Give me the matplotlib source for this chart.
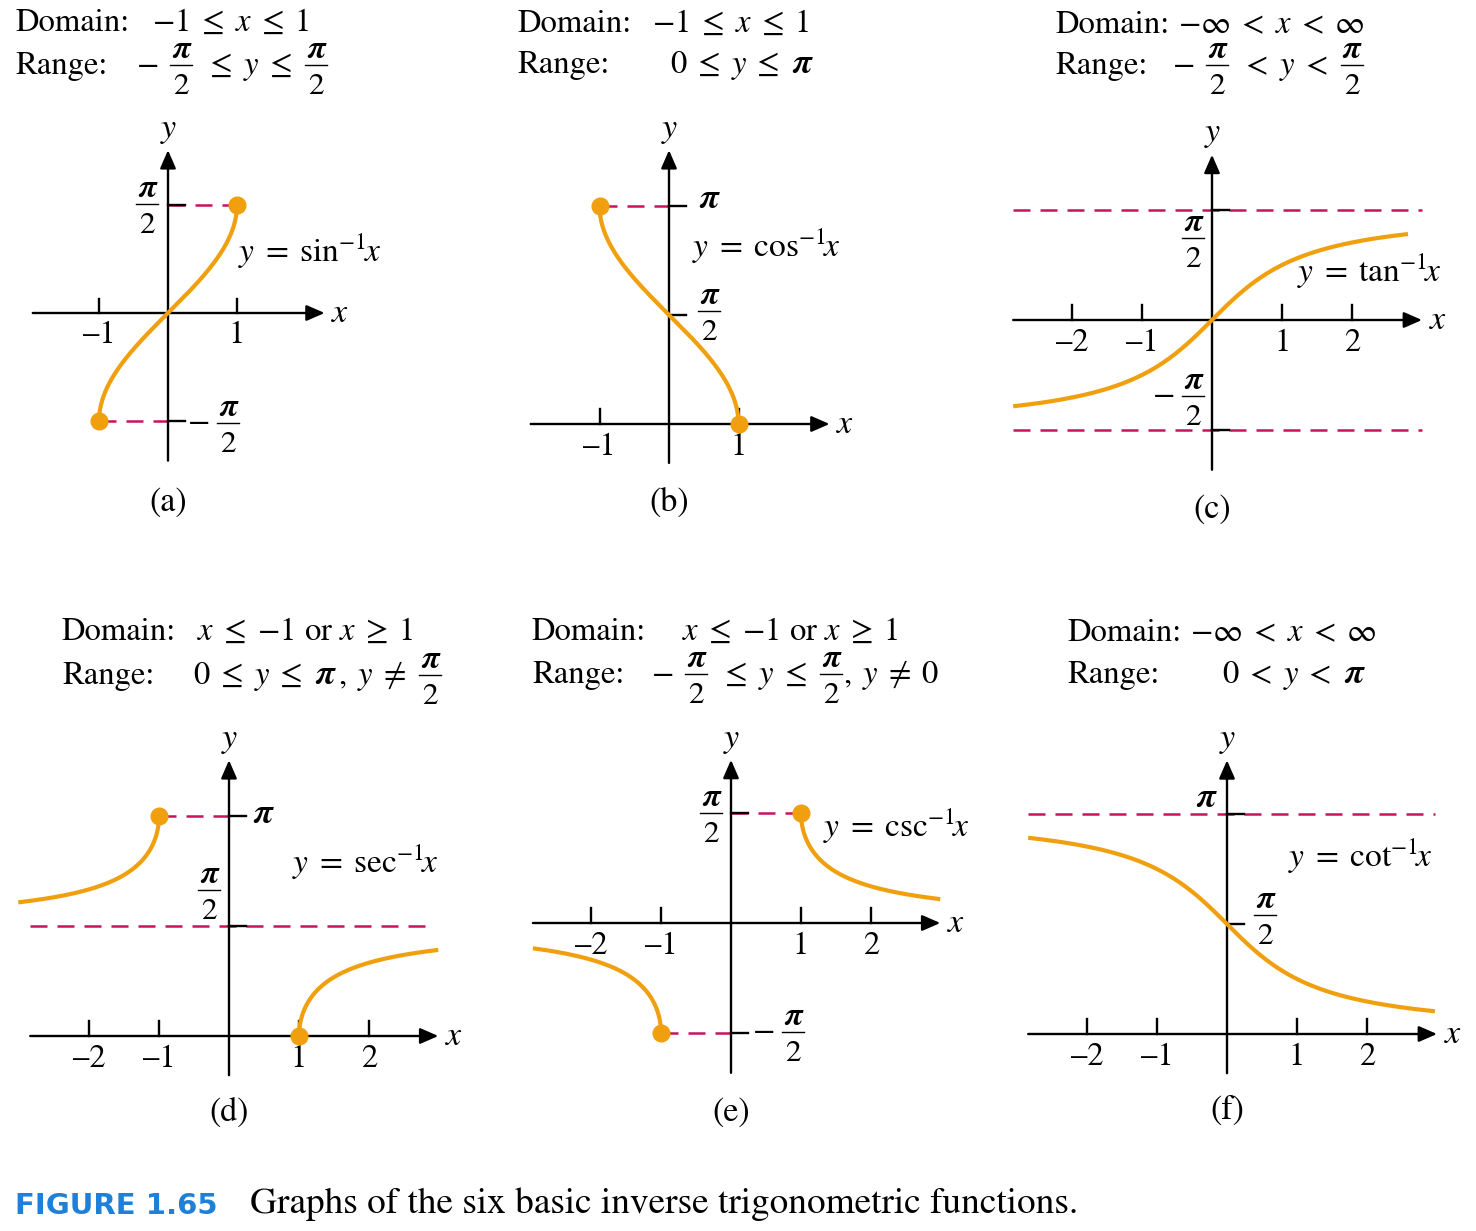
import numpy as np
import matplotlib
matplotlib.use("Agg")
import matplotlib.pyplot as plt
from matplotlib.lines import Line2D

plt.rcParams["font.family"] = "STIXGeneral"
plt.rcParams["mathtext.fontset"] = "custom"
plt.rcParams["mathtext.rm"] = "STIXGeneral"
plt.rcParams["mathtext.it"] = "STIXGeneral:italic"
plt.rcParams["mathtext.bf"] = "STIXGeneral:italic:bold"

W, H = 1476, 1231
PI = np.pi

# ---- data -------------------------------------------------------------
panel_tags = ["(a)", "(b)", "(c)", "(d)", "(e)", "(f)"]
func_names = ["sin", "cos", "tan", "sec", "csc", "cot"]

# "F" = pi/2 fraction, "P" = pi, anything else is (math)text
domain_parts = [
    [r"$-1\;\leq\;x\;\leq\;1$"],
    [r"$-1\;\leq\;x\;\leq\;1$"],
    [r"$-\infty\;<\;x\;<\;\infty$"],
    [r"$x\;\leq\;{-}1$ or $x\;\geq\;1$"],
    [r"$x\;\leq\;{-}1$ or $x\;\geq\;1$"],
    [r"$-\infty\;<\;x\;<\;\infty$"],
]
range_parts = [
    ["\u2212", "F", r"$\leq\;y\;\leq$", "F"],
    [r"$0\;\leq\;y\;\leq$", "P"],
    ["\u2212", "F", r"$<\;y\;<$", "F"],
    [r"$0\;\leq\;y\;\leq$", "P", r"$,\;y\;\neq$", "F"],
    ["\u2212", "F", r"$\leq\;y\;\leq$", "F", r"$,\;y\;\neq\;0$"],
    [r"$0\;<\;y\;<$", "P"],
]

inverse_funcs = {
    "sin": np.arcsin,
    "cos": np.arccos,
    "tan": np.arctan,
    "sec": lambda x: np.arccos(1 / x),
    "csc": lambda x: np.arcsin(1 / x),
    "cot": lambda x: PI / 2 - np.arctan(x),
}

# x-intervals of the drawn curve pieces
curve_pieces = [
    [(-1, 1)],
    [(-1, 1)],
    [(-2.84, 2.8)],
    [(-3.01, -1), (1, 2.99)],
    [(-2.83, -1), (1, 2.99)],
    [(-2.84, 2.97)],
]
# closed endpoints (x values)
end_dots = [[-1, 1], [-1, 1], [], [-1, 1], [-1, 1], []]
# dashed guide lines (x0, x1, y)
guide_lines = [
    [(-1, 0, -PI / 2), (0, 1, PI / 2)],
    [(-1, 0, PI)],
    [(-2.84, 3.0, PI / 2), (-2.84, 3.0, -PI / 2)],
    [(-1, 0, PI), (-2.84, 2.94, PI / 2)],
    [(0, 1, PI / 2), (-1, 0, -PI / 2)],
    [(-2.84, 2.97, PI)],
]
x_tick_vals = [[-1, 1], [-1, 1], [-2, -1, 1, 2], [-2, -1, 1, 2], [-2, -1, 1, 2], [-2, -1, 1, 2]]
x_tick_text = {-2: "\u20132", -1: "\u20131", 1: "1", 2: "2"}
y_tick_vals = [[PI / 2, -PI / 2], [PI, PI / 2], [PI / 2, -PI / 2], [PI, PI / 2], [PI / 2, -PI / 2], [PI, PI / 2]]
y_tick_kind = [["F", "-F"], ["P", "F"], ["F", "-F"], ["P", "F"], ["F", "-F"], ["P", "F"]]

x_axis_span = [(-1.96, 2.27), (-1.99, 2.31), (-2.84, 3.0), (-2.84, 2.99), (-2.83, 2.99), (-2.84, 3.0)]
y_axis_span = [(-2.14, 2.36), (-0.56, 3.94), (-2.14, 2.36), (-0.56, 3.94), (-2.14, 2.33), (-0.56, 3.91)]

# ---- layout (pixels) --------------------------------------------------
origins = [(168, 313), (669, 424), (1212, 320), (229, 1036), (731, 923), (1227, 1034)]
units = [69, 69.5, 70, 70, 70, 70]
# y tick label anchors: fraction -> (centre x, bar y); pi -> (centre x, baseline)
y_label_px = [
    [(147, 204), (228, 423)],
    [(710, 208), (709, 311)],
    [(1193, 238), (1193, 396)],
    [(264, 823), (209, 890)],
    [(711, 813), (793, 1032)],
    [(1207, 807), (1265, 915)],
]
label_x = [15, 517, 1055, 62, 532, 1067]
domain_y = [31, 32, 33, 640, 640, 641]
range_y = [74, 73, 74, 684, 683, 683]
domain_math_x = [152, 652, 1178, 197, 682, 1190]
range_math_x = [137, 670, 1173, 193, 652, 1222]
func_label_pos = [(238, 262), (692, 257), (1297, 282), (292, 873), (823, 837), (1288, 867)]
tag_pos = [(168, 503), (669, 503), (1212, 510), (229, 1113), (731, 1113), (1227, 1111)]

ORANGE = "#F0A00E"
MAGENTA = "#C8125F"
FS = 23.5
FS_DIG = 22.5
FS_PI = 25
FS_PI_FRAC = 23.5

fig = plt.figure(figsize=(W / 100, H / 100), dpi=100)
renderer = fig.canvas.get_renderer()


def fx(px):
    return px / W


def fy(py):
    return 1 - py / H


def pi_text(cx, base, ha="center", size=FS_PI):
    # bold italic pi through mathtext (bf font set to STIX bold italic)
    return fig.text(fx(cx), fy(base), r"$\mathbf{\pi}$", fontsize=size, ha=ha, va="baseline")


def frac(cx, bar_y):
    # stacked pi over 2 with a rule
    pi_text(cx + 1, bar_y - 7, size=FS_PI_FRAC)
    fig.text(fx(cx), fy(bar_y + 29), "2", fontsize=FS_DIG, ha="center", va="baseline")
    fig.add_artist(Line2D([fx(cx - 11), fx(cx + 11)], [fy(bar_y), fy(bar_y)],
                          lw=1.0, color="black"))


def put_parts(x_px, base, parts):
    x = x_px
    for k, p in enumerate(parts):
        nxt = parts[k + 1] if k + 1 < len(parts) else ""
        if p == "F":
            frac(x + 11, base - 9)
            w = 22
        elif p == "P":
            t = pi_text(x, base, ha="left")
            w = t.get_window_extent(renderer).width
        else:
            t = fig.text(fx(x), fy(base), p, fontsize=FS, va="baseline")
            w = t.get_window_extent(renderer).width
        if p == "\u2212":
            gap = 11
        elif nxt.startswith("$,"):
            gap = 1
        else:
            gap = 13
        x += w + gap


XL, YL = (-3.4, 3.6), (-2.7, 4.5)

for i in range(6):
    ox, oy = origins[i]
    u = units[i]
    left = ox + XL[0] * u
    bottom = oy - YL[0] * u
    ax = fig.add_axes([fx(left), fy(bottom), (XL[1] - XL[0]) * u / W, (YL[1] - YL[0]) * u / H])
    ax.set_xlim(*XL)
    ax.set_ylim(*YL)
    ax.axis("off")

    # guide lines
    for x0, x1, yv in guide_lines[i]:
        ax.plot([x0, x1], [yv, yv], color=MAGENTA, lw=1.8, dashes=(6.8, 4.0), zorder=1)

    # axes with arrows
    xa0, xa1 = x_axis_span[i]
    ya0, ya1 = y_axis_span[i]
    arrow = dict(arrowstyle="-|>,head_length=0.55,head_width=0.24", color="black",
                 lw=1.7, mutation_scale=20, shrinkA=0, shrinkB=0)
    ax.annotate("", xy=(xa1, 0), xytext=(xa0, 0), arrowprops=arrow, annotation_clip=False, zorder=2)
    ax.annotate("", xy=(0, ya1), xytext=(0, ya0), arrowprops=arrow, annotation_clip=False, zorder=2)
    ax.text(xa1 + 0.22, -0.13, "x", style="italic", fontsize=FS + 1, ha="center", va="baseline")
    ax.text(0, ya1 + 0.19, "y", style="italic", fontsize=FS + 1, ha="center", va="baseline")

    # ticks
    for t in x_tick_vals[i]:
        ax.plot([t, t], [0, 0.21], color="black", lw=1.7, zorder=2)
        ax.text(t, -0.44, x_tick_text[t], fontsize=FS, ha="center", va="baseline")
    for t, kind, (px, py) in zip(y_tick_vals[i], y_tick_kind[i], y_label_px[i]):
        ax.plot([0, 0.24], [t, t], color="black", lw=1.7, zorder=2)
        if kind == "P":
            pi_text(px, py)
        else:
            frac(px, py)
            if kind == "-F":
                fig.text(fx(px - 29), fy(py + 8), "\u2212", fontsize=FS, ha="center", va="baseline")

    # curve
    f = inverse_funcs[func_names[i]]
    for a, b in curve_pieces[i]:
        xs = np.linspace(a, b, 4000)
        ax.plot(xs, f(xs), color=ORANGE, lw=3.0, solid_capstyle="butt", zorder=3)
    if end_dots[i]:
        xd = np.array(end_dots[i], dtype=float)
        ax.plot(xd, f(xd), "o", color=ORANGE, markersize=12, zorder=4)

    # function label
    lx, ly = func_label_pos[i]
    fig.text(fx(lx), fy(ly), r"$y\;=\;\mathrm{%s}^{-1}\!x$" % func_names[i],
             fontsize=FS + 0.5, ha="left", va="baseline")

    # domain / range
    fig.text(fx(label_x[i]), fy(domain_y[i]), "Domain:", fontsize=FS, va="baseline")
    put_parts(domain_math_x[i], domain_y[i], domain_parts[i])
    fig.text(fx(label_x[i]), fy(range_y[i]), "Range:", fontsize=FS, va="baseline")
    put_parts(range_math_x[i], range_y[i], range_parts[i])

    tx, ty = tag_pos[i]
    fig.text(fx(tx), fy(ty), panel_tags[i], fontsize=FS + 1, ha="center", va="center")

# caption
fig.text(fx(15), fy(1214), "FIGURE 1.65", family="DejaVu Sans", fontweight="bold",
         color="#1E80D6", fontsize=21, va="baseline")
fig.text(fx(250), fy(1213), "Graphs of the six basic inverse trigonometric functions.",
         fontsize=26.8, va="baseline")

fig.savefig("out.png", dpi=100)
